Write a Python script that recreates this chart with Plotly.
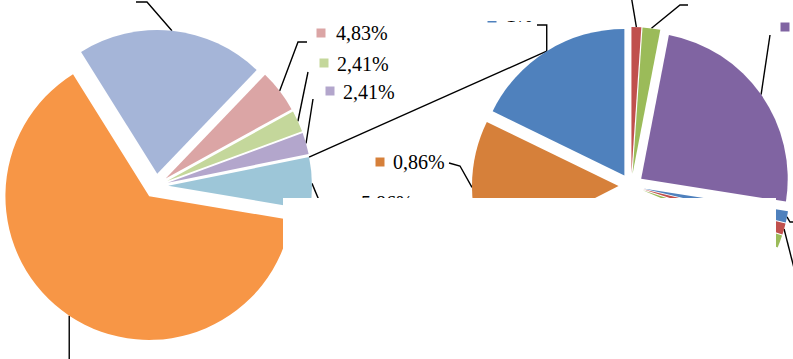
import math
import plotly.graph_objects as go

W, H = 793, 359
FONT = "Liberation Serif, Times New Roman, serif"

# ---------------- data ----------------
left_labels = ["A", "B", "C", "D", "E", "F"]
left_values = [21.04, 4.83, 2.41, 2.41, 5.86, 63.45]
left_colors = ["#A5B5D8", "#DBA5A5", "#C4D79B", "#B3A6CC", "#9DC6D8", "#F79646"]
left_text = ["", "4,83%", "2,41%", "2,41%", "5,86%", ""]

right_labels = ["R1", "R2", "R3", "R4", "R5", "R6", "R7", "R8", "R9"]
right_values = [1.08, 1.95, 24.45, 1.25, 1.25, 1.39, 36.13, 14.72, 17.78]
right_colors = ["#C0504D", "#9BBB59", "#8064A2", "#4F81BD", "#C0504D",
                "#9BBB59", "#4BACC6", "#D6803A", "#4F81BD"]
right_text = ["", "", "", "", "", "", "", "0,86%", "1%"]

# ---------------- layout of the pies ----------------
left_dom = dict(x=[0.0, 0.3934], y=[0.0223, 0.9415])
right_dom = dict(x=[0.5952, 0.9962], y=[0.0223, 0.9415])
left_rot, right_rot = -32, 0
left_pull, right_pull = 0.085, 0.085


def pie_geom(dom, pull):
    w = W * (dom["x"][1] - dom["x"][0])
    h = H * (dom["y"][1] - dom["y"][0])
    r = min(w, h) / 2 / (1 + pull)
    cx = W * (dom["x"][0] + dom["x"][1]) / 2
    cy = H * (1 - dom["y"][1]) + h / 2
    return cx, cy, r


def arc_point(dom, pull, values, rot, i, frac=0.5):
    cx, cy, r = pie_geom(dom, pull)
    tot = sum(values)
    start = rot + 360 * sum(values[:i]) / tot
    span = 360 * values[i] / tot
    mid = math.radians(start + span / 2)
    th = math.radians(start + span * frac)
    d = pull * r
    return (cx + d * math.sin(mid) + r * math.sin(th),
            cy - d * math.cos(mid) - r * math.cos(th))


def L(i, frac=0.5):
    return arc_point(left_dom, left_pull, left_values, left_rot, i, frac)


def R(i, frac=0.5):
    return arc_point(right_dom, right_pull, right_values, right_rot, i, frac)


fig = go.Figure()

# ---------------- leader lines (cartesian, pixel space) ----------------
leaders = []
a = L(0); leaders.append([a, (147, 2), (136, 2)])
a = L(1); leaders.append([a, (298, 42), (307, 42)])
a = L(2); leaders.append([a, (308, 72)])
a = L(3); leaders.append([a, (313, 99)])
a = L(4); leaders.append([a, (321, 205)])
a = L(5); leaders.append([a, (a[0], 370)])
leaders.append([L(4, 0.0), R(8)])
a = R(8); leaders.append([a, (a[0], 25), (537, 25)])
a = R(0); leaders.append([a, (631, -5)])
a = R(1); leaders.append([a, (680, 5), (688, 5)])
a = R(2); leaders.append([a, (770, 35)])
a = R(3); leaders.append([a, (790, 222), (800, 222)])
a = R(4); leaders.append([a, (797, 280)])
a = R(7); leaders.append([a, (460, 166), (449, 163)])

for pts in leaders:
    fig.add_trace(go.Scatter(
        x=[p[0] for p in pts], y=[p[1] for p in pts], mode="lines",
        line=dict(color="black", width=1.4), hoverinfo="skip",
        showlegend=False))

# ---------------- data labels (square key + text) ----------------
label_items = [
    # (marker x, marker y, colour, text, text x, text y)
    (321, 33, left_colors[1], left_text[1], 336, 35),
    (324, 63, left_colors[2], left_text[2], 337, 66),
    (330, 91, left_colors[3], left_text[3], 343, 94),
    (348, 203, left_colors[4], left_text[4], 361, 205),
    (380, 162, right_colors[7], right_text[7], 393, 164),
    (492, 18, right_colors[8], right_text[8], 506, 17),
    (785, 27, right_colors[2], "", 796, 29),
]
for mx, my, col, txt, tx, ty in label_items:
    fig.add_trace(go.Scatter(
        x=[mx], y=[my], mode="markers",
        marker=dict(symbol="square", size=9, color=col, line=dict(width=0)),
        hoverinfo="skip", showlegend=False))
    if txt:
        fig.add_trace(go.Scatter(
            x=[tx], y=[ty], mode="text", text=[txt],
            textposition="middle right",
            textfont=dict(family=FONT, size=20, color="black"),
            hoverinfo="skip", showlegend=False))

# ---------------- pies ----------------
fig.add_trace(go.Pie(
    labels=left_labels, values=left_values, sort=False, direction="clockwise",
    rotation=left_rot, pull=[left_pull] * len(left_values),
    marker=dict(colors=left_colors, line=dict(width=0)),
    textinfo="none", hoverinfo="label+value", domain=left_dom,
    showlegend=False))
fig.add_trace(go.Pie(
    labels=right_labels, values=right_values, sort=False, direction="clockwise",
    rotation=right_rot, pull=[right_pull] * len(right_values),
    marker=dict(colors=right_colors, line=dict(width=0)),
    textinfo="none", hoverinfo="label+value", domain=right_dom,
    showlegend=False))

# ---------------- white covers ----------------
fig.add_shape(type="rect", xref="x", yref="y", x0=283, x1=776, y0=198, y1=370,
              fillcolor="white", line=dict(width=0), layer="above")
fig.add_shape(type="rect", xref="x", yref="y", x0=480, x1=546, y0=-10, y1=21,
              fillcolor="white", line=dict(width=0), layer="above")

fig.update_layout(
    width=W, height=H, margin=dict(l=0, r=0, t=0, b=0),
    paper_bgcolor="white", plot_bgcolor="white", showlegend=False,
    xaxis=dict(range=[0, W], visible=False, fixedrange=True),
    yaxis=dict(range=[H, 0], visible=False, fixedrange=True),
)

fig.write_html("out.html", config={"displayModeBar": False},
               post_script="document.body.style.margin='0';"
                           "document.body.style.overflow='hidden';")
